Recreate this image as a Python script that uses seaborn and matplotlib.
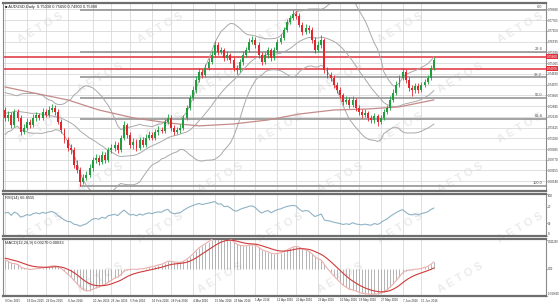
import numpy as np
import pandas as pd
import matplotlib
matplotlib.use("Agg")
import matplotlib.pyplot as plt
import matplotlib.transforms as mtransforms
import seaborn as sns

sns.set_theme(style="white")
plt.rcParams["font.family"] = ["Liberation Sans", "DejaVu Sans"]

# ---------------- data (AUDUSD daily) ----------------
open_ = [0.7262, 0.7217, 0.7234, 0.7176, 0.7251, 0.7217, 0.7136, 0.7159, 0.7194, 0.7176,
         0.7217, 0.7234, 0.7217, 0.7251, 0.7234, 0.7262, 0.7274, 0.7251, 0.7194, 0.7148,
         0.7091, 0.7045, 0.7033, 0.6947, 0.6919, 0.6850, 0.6873, 0.6890, 0.6930, 0.6976,
         0.6987, 0.6965, 0.7005, 0.6976, 0.7033, 0.7045, 0.7062, 0.7033, 0.7102, 0.7176,
         0.7119, 0.7062, 0.7079, 0.7045, 0.7091, 0.7062, 0.7102, 0.7119, 0.7102, 0.7136,
         0.7148, 0.7142, 0.7194, 0.7217, 0.7159, 0.7136, 0.7148, 0.7159, 0.7217, 0.7274,
         0.7331, 0.7377, 0.7434, 0.7480, 0.7463, 0.7503, 0.7537, 0.7577, 0.7635, 0.7595,
         0.7606, 0.7560, 0.7577, 0.7549, 0.7503, 0.7491, 0.7537, 0.7577, 0.7606, 0.7652,
         0.7663, 0.7635, 0.7577, 0.7537, 0.7577, 0.7606, 0.7560, 0.7606, 0.7652, 0.7675,
         0.7721, 0.7766, 0.7789, 0.7812, 0.7801, 0.7749, 0.7709, 0.7732, 0.7721, 0.7663,
         0.7606, 0.7635, 0.7663, 0.7491, 0.7463, 0.7446, 0.7406, 0.7377, 0.7348, 0.7308,
         0.7320, 0.7291, 0.7320, 0.7274, 0.7251, 0.7234, 0.7245, 0.7217, 0.7205, 0.7228,
         0.7194, 0.7217, 0.7251, 0.7274, 0.7320, 0.7360, 0.7406, 0.7446, 0.7480, 0.7434,
         0.7388, 0.7377, 0.7400, 0.7377, 0.7406, 0.7423, 0.7446, 0.7503]
close = [0.7217, 0.7234, 0.7176, 0.7251, 0.7217, 0.7136, 0.7159, 0.7194, 0.7176, 0.7217,
         0.7234, 0.7217, 0.7251, 0.7234, 0.7262, 0.7274, 0.7251, 0.7194, 0.7148, 0.7091,
         0.7045, 0.7033, 0.6947, 0.6919, 0.6850, 0.6873, 0.6890, 0.6930, 0.6976, 0.6987,
         0.6965, 0.7005, 0.6976, 0.7033, 0.7045, 0.7062, 0.7033, 0.7102, 0.7176, 0.7119,
         0.7062, 0.7079, 0.7045, 0.7091, 0.7062, 0.7102, 0.7119, 0.7102, 0.7136, 0.7148,
         0.7142, 0.7194, 0.7217, 0.7159, 0.7136, 0.7148, 0.7159, 0.7217, 0.7274, 0.7331,
         0.7377, 0.7434, 0.7480, 0.7463, 0.7503, 0.7537, 0.7577, 0.7635, 0.7595, 0.7606,
         0.7560, 0.7577, 0.7549, 0.7503, 0.7491, 0.7537, 0.7577, 0.7606, 0.7652, 0.7663,
         0.7635, 0.7577, 0.7537, 0.7577, 0.7606, 0.7560, 0.7606, 0.7652, 0.7675, 0.7721,
         0.7766, 0.7789, 0.7812, 0.7801, 0.7749, 0.7709, 0.7732, 0.7721, 0.7663, 0.7606,
         0.7635, 0.7663, 0.7491, 0.7463, 0.7446, 0.7406, 0.7377, 0.7348, 0.7308, 0.7320,
         0.7291, 0.7320, 0.7274, 0.7251, 0.7234, 0.7245, 0.7217, 0.7205, 0.7228, 0.7194,
         0.7217, 0.7251, 0.7274, 0.7320, 0.7360, 0.7406, 0.7446, 0.7480, 0.7434, 0.7388,
         0.7377, 0.7400, 0.7377, 0.7406, 0.7423, 0.7446, 0.7503, 0.7549]
high = [0.7280, 0.7255, 0.7248, 0.7270, 0.7265, 0.7232, 0.7180, 0.7215, 0.7208, 0.7238,
        0.7252, 0.7246, 0.7272, 0.7266, 0.7284, 0.7296, 0.7288, 0.7265, 0.7210, 0.7160,
        0.7108, 0.7070, 0.7048, 0.6975, 0.6935, 0.6898, 0.6915, 0.6952, 0.6995, 0.7010,
        0.7002, 0.7030, 0.7020, 0.7050, 0.7070, 0.7085, 0.7078, 0.7118, 0.7200, 0.7190,
        0.7135, 0.7100, 0.7095, 0.7110, 0.7105, 0.7125, 0.7140, 0.7134, 0.7155, 0.7168,
        0.7165, 0.7210, 0.7238, 0.7232, 0.7175, 0.7165, 0.7180, 0.7235, 0.7292, 0.7350,
        0.7398, 0.7455, 0.7500, 0.7495, 0.7525, 0.7558, 0.7600, 0.7660, 0.7650, 0.7625,
        0.7620, 0.7598, 0.7590, 0.7565, 0.7520, 0.7555, 0.7598, 0.7625, 0.7672, 0.7685,
        0.7680, 0.7650, 0.7592, 0.7595, 0.7625, 0.7620, 0.7625, 0.7670, 0.7695, 0.7740,
        0.7785, 0.7808, 0.7835, 0.7828, 0.7815, 0.7765, 0.7752, 0.7748, 0.7735, 0.7680,
        0.7655, 0.7690, 0.7675, 0.7510, 0.7480, 0.7460, 0.7420, 0.7395, 0.7362, 0.7340,
        0.7335, 0.7345, 0.7332, 0.7290, 0.7268, 0.7265, 0.7258, 0.7232, 0.7245, 0.7240,
        0.7235, 0.7268, 0.7292, 0.7340, 0.7380, 0.7428, 0.7465, 0.7505, 0.7495, 0.7450,
        0.7408, 0.7418, 0.7415, 0.7425, 0.7440, 0.7462, 0.7520, 0.7565]
low = [0.7200, 0.7198, 0.7160, 0.7162, 0.7200, 0.7118, 0.7122, 0.7145, 0.7160, 0.7165,
       0.7200, 0.7205, 0.7203, 0.7220, 0.7222, 0.7248, 0.7235, 0.7180, 0.7130, 0.7075,
       0.7030, 0.7010, 0.6930, 0.6900, 0.6827, 0.6838, 0.6860, 0.6878, 0.6915, 0.6960,
       0.6945, 0.6950, 0.6960, 0.6965, 0.7015, 0.7030, 0.7015, 0.7020, 0.7090, 0.7100,
       0.7045, 0.7040, 0.7030, 0.7035, 0.7048, 0.7050, 0.7090, 0.7088, 0.7090, 0.7120,
       0.7128, 0.7130, 0.7180, 0.7140, 0.7120, 0.7125, 0.7132, 0.7145, 0.7205, 0.7260,
       0.7318, 0.7362, 0.7420, 0.7445, 0.7450, 0.7490, 0.7525, 0.7565, 0.7575, 0.7580,
       0.7545, 0.7548, 0.7532, 0.7488, 0.7470, 0.7478, 0.7522, 0.7565, 0.7592, 0.7640,
       0.7620, 0.7560, 0.7520, 0.7525, 0.7562, 0.7545, 0.7548, 0.7595, 0.7640, 0.7662,
       0.7708, 0.7752, 0.7775, 0.7785, 0.7735, 0.7692, 0.7695, 0.7705, 0.7648, 0.7590,
       0.7592, 0.7620, 0.7475, 0.7445, 0.7428, 0.7390, 0.7360, 0.7330, 0.7290, 0.7295,
       0.7275, 0.7280, 0.7258, 0.7235, 0.7218, 0.7220, 0.7200, 0.7188, 0.7190, 0.7170,
       0.7182, 0.7205, 0.7238, 0.7262, 0.7305, 0.7348, 0.7392, 0.7432, 0.7418, 0.7372,
       0.7345, 0.7362, 0.7360, 0.7365, 0.7392, 0.7410, 0.7435, 0.7490]
# closes before the visible window, used only to warm up the indicators
prior_close = [0.7120, 0.7150, 0.7130, 0.7100, 0.7140, 0.7110, 0.7050, 0.7070, 0.7030, 0.7060,
               0.7090, 0.7130, 0.7150, 0.7140, 0.7180, 0.7220, 0.7200, 0.7240, 0.7250, 0.7230,
               0.7220, 0.7300, 0.7290, 0.7340, 0.7320, 0.7300, 0.7330, 0.7270, 0.7250, 0.7262]

# 200-day moving average read at several bars
ma_bar = [0, 9, 20, 30, 41, 52, 62, 73, 84, 94, 105, 116, 126, 137]
ma_val = [0.7394, 0.7360, 0.7320, 0.7262, 0.7217, 0.7188, 0.7171, 0.7182, 0.7205,
          0.7239, 0.7262, 0.7268, 0.7280, 0.7320]

fib_levels = ["0.0", "23.6", "38.2", "50.0", "61.8", "100.0"]
fib_ratio = [0.0, 0.236, 0.382, 0.5, 0.618, 1.0]
sr_lines = [0.75660, 0.74970]

price_ticks = [0.78380, 0.77765, 0.77150, 0.76535, 0.75920, 0.75305, 0.74690, 0.74075,
               0.73460, 0.72845, 0.72230, 0.71615, 0.71000, 0.70385, 0.69770, 0.69155, 0.68540]
date_labels = ["9 Dec 2015", "18 Dec 2015", "29 Dec 2015", "8 Jan 2016", "20 Jan 2016",
               "28 Jan 2016", "5 Feb 2016", "16 Feb 2016", "24 Feb 2016", "4 Mar 2016",
               "15 Mar 2016", "23 Mar 2016", "1 Apr 2016", "12 Apr 2016", "20 Apr 2016",
               "29 Apr 2016", "10 May 2016", "18 May 2016", "27 May 2016", "7 Jun 2016",
               "15 Jun 2016"]
rsi_ticks = [100, 70, 30, 0]
macd_ticks = [0.01128, 0.0, -0.01069]
macd_tick_labels = ["0.011280", "0.00", "-0.010690"]

# ---------------- derived frames ----------------
n = len(close)
days = [d for d in pd.bdate_range("2015-12-09", "2016-07-15")
        if not ((d.month == 12 and d.day == 25) or (d.month == 1 and d.day == 1))][:n]
df = pd.DataFrame({"bar": np.arange(n), "date": days, "open": open_, "high": high,
                   "low": low, "close": close})
full = pd.Series(prior_close + close)
mid = full.rolling(20).mean()
sd = full.rolling(20).std(ddof=0)
df["bb_mid"] = mid.values[-n:]
df["bb_up"] = (mid + 2 * sd).values[-n:]
df["bb_lo"] = (mid - 2 * sd).values[-n:]
delta = full.diff()
gain = delta.clip(lower=0).ewm(alpha=1 / 14, adjust=False).mean()
loss = (-delta.clip(upper=0)).ewm(alpha=1 / 14, adjust=False).mean()
df["rsi"] = (100 - 100 / (1 + gain / loss)).values[-n:]
macd = full.ewm(span=12, adjust=False).mean() - full.ewm(span=26, adjust=False).mean()
sig = macd.ewm(span=9, adjust=False).mean()
df["macd"] = macd.values[-n:]
df["signal"] = sig.values[-n:]
ma_df = pd.DataFrame({"bar": ma_bar, "ma": ma_val})

date_str = [f"{d.day} {d.strftime('%b %Y')}" for d in df["date"]]
tick_pos = [date_str.index(s) for s in date_labels]

# ---------------- figure ----------------
W, H = 560, 304
fig = plt.figure(figsize=(W / 100, H / 100), dpi=100, facecolor="white")
L, R = 3, 546
ax1 = fig.add_axes([L / W, 1 - 191 / H, (R - L) / W, 188 / H])
ax2 = fig.add_axes([L / W, 1 - 236 / H, (R - L) / W, 42 / H])
ax3 = fig.add_axes([L / W, 1 - 296 / H, (R - L) / W, 57 / H])
xlim = (-0.64, 172.8)

# watermark, tiled inside the picture
for r in range(6):
    for c in range(5):
        wx = 40 + c * 120 + (r % 2) * 60
        wy = 28 + r * 50
        if wx > 525:
            continue
        fig.text(wx / W, 1 - wy / H, "A E T O S", fontsize=8, fontweight="bold",
                 color="#ebebeb", rotation=30, ha="center", va="center", zorder=-5)

grid_c = "#d9d9d9"
fs = 2.9     # panel captions
tfs = 2.2    # tick labels
for ax in (ax1, ax2, ax3):
    ax.set_facecolor("none")
    ax.set_xlim(*xlim)
    for p in tick_pos:
        ax.axvline(p, color=grid_c, lw=0.6, zorder=0)
    ax.yaxis.tick_right()
    ax.tick_params(axis="y", labelsize=tfs, length=0.8, pad=0.4, colors="#333333", width=0.5)
    ax.tick_params(axis="x", labelsize=tfs, length=1.0, pad=0.8, colors="#333333", width=0.5)
    for s in ax.spines.values():
        s.set_color("#8a8a8a")
        s.set_linewidth(0.8)
    ax.spines["top"].set_linewidth(1.6)
    ax.spines["bottom"].set_linewidth(1.6)
    ax.spines["top"].set_color("#6e6e6e")
    ax.spines["bottom"].set_color("#6e6e6e")

# ---- main panel ----
ymin, ymax = 0.6798, 0.7875
ax1.set_ylim(ymin, ymax)
for t in price_ticks:
    ax1.axhline(t, color=grid_c, lw=0.6, zorder=0)
ax1.set_yticks(price_ticks)
ax1.set_yticklabels([f"{t:.5f}" for t in price_ticks])
ax1.set_xticks([])

lo_bar = int(np.argmin(df["low"]))
hi_price, lo_price = max(high), min(low)
trans = mtransforms.blended_transform_factory(ax1.transAxes, ax1.transData)
for lab, fr in zip(fib_levels, fib_ratio):
    lv = hi_price - fr * (hi_price - lo_price)
    ax1.hlines(lv, lo_bar, xlim[1], color="#8c8c8c", lw=1.1, zorder=1)
    ax1.text(0.993, lv + 0.0003, lab, transform=trans, ha="right", va="bottom",
             fontsize=fs, color="#555555")
for lv in sr_lines:
    ax1.axhline(lv, color="#e0303c", lw=1.1, zorder=1)
    ax1.text(1.0012, lv, f"{lv:.5f}", transform=trans, ha="left", va="center",
             fontsize=tfs, color="white",
             bbox=dict(facecolor="#e0303c", edgecolor="none", pad=0.35))

band_c = "#a9a9a9"
for col in ("bb_up", "bb_mid", "bb_lo"):
    sns.lineplot(data=df, x="bar", y=col, ax=ax1, color=band_c, lw=0.7, zorder=2)
sns.lineplot(data=ma_df, x="bar", y="ma", ax=ax1, color="#c58a8a", lw=0.9, zorder=2)

up = df["close"] >= df["open"]
cols = np.where(up, "#1e9e3c", "#e3262e")
ax1.vlines(df["bar"], df["low"], df["high"], colors=cols, lw=0.6, zorder=3)
body = (df["close"] - df["open"]).values
body = np.where(np.abs(body) < 0.0001, 0.0001, body)
ax1.bar(df["bar"], body, bottom=df["open"], width=0.62, color=cols, lw=0, zorder=4)
ax1.set_xlabel("")
ax1.set_ylabel("")
last = df.iloc[-1]
ax1.text(0.004, 0.992,
         f"\u25a0 AUDUSD,Daily  {last.open:.5f} {last.high:.5f} {last.low:.5f} {last.close:.5f}",
         transform=ax1.transAxes, ha="left", va="top", fontsize=fs, color="#222222")

# ---- RSI panel ----
ax2.set_ylim(0, 100)
sns.lineplot(data=df, x="bar", y="rsi", ax=ax2, color="#8fb2c4", lw=0.8)
ax2.set_yticks(rsi_ticks)
ax2.set_yticklabels([str(t) for t in rsi_ticks])
rl = ax2.get_yticklabels()
rl[0].set_va("top")
rl[-1].set_va("bottom")
ax2.set_xticks([])
ax2.set_xlabel("")
ax2.set_ylabel("")
ax2.text(0.004, 0.96, f"RSI(14) {df['rsi'].iloc[-1]:.4f}", transform=ax2.transAxes,
         ha="left", va="top", fontsize=fs, color="#222222")

# ---- MACD panel ----
ax3.set_ylim(-0.01069, 0.01167)
ax3.vlines(df["bar"], 0, df["macd"], colors="#a8a8a8", lw=0.6, zorder=2)
sns.lineplot(data=df, x="bar", y="macd", ax=ax3, color="#eab0ae", lw=0.8, zorder=3)
sns.lineplot(data=df, x="bar", y="signal", ax=ax3, color="#cf3a3a", lw=0.8, zorder=4)
ax3.set_yticks(macd_ticks)
ax3.set_yticklabels(macd_tick_labels)
ml = ax3.get_yticklabels()
for t in ml:
    t.set_fontsize(1.9)
ml[0].set_va("top")
ml[-1].set_va("bottom")
ax3.set_xticks(tick_pos)
ax3.set_xticklabels(date_labels, ha="left")
ax3.set_xlabel("")
ax3.set_ylabel("")
ax3.text(0.004, 0.97,
         f"MACD(12,26,9) {df['macd'].iloc[-1]:.5f} {df['signal'].iloc[-1]:.5f}",
         transform=ax3.transAxes, ha="left", va="top", fontsize=fs, color="#222222")

fig.savefig("out.png", dpi=100, facecolor="white")
